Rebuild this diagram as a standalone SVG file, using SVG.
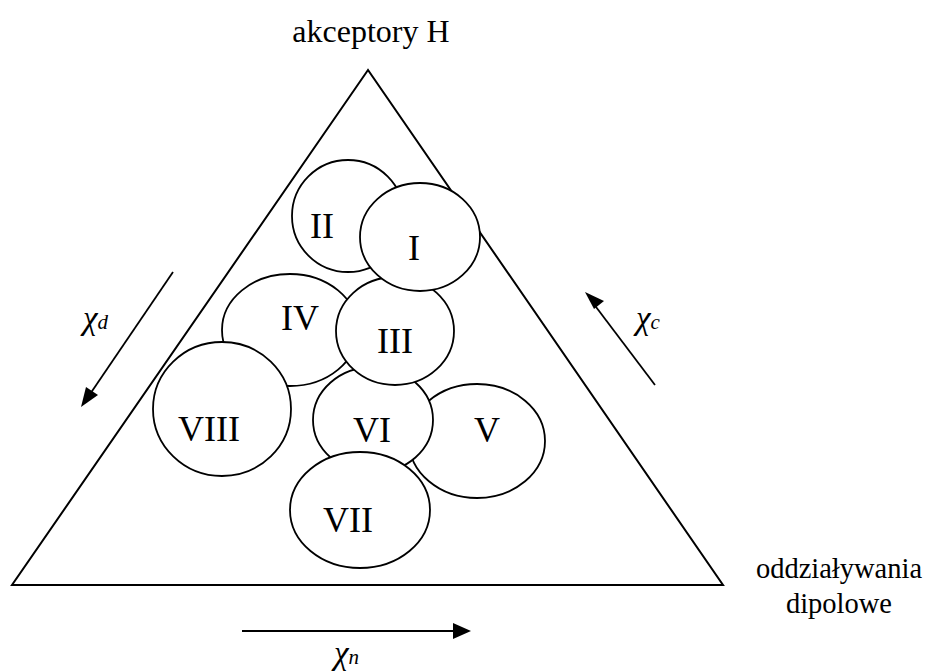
<svg xmlns="http://www.w3.org/2000/svg" width="926" height="671" viewBox="0 0 926 671">
<style>
.n{fill:#fff;stroke:#000;stroke-width:1.8}
.l{stroke:#000;stroke-width:1.8;fill:none}
</style>
<g id="triangle"><polygon points="368,70 12,585 723,585" fill="none" stroke="#000" stroke-width="2"/></g>
<text x="371" y="42" font-family="Liberation Serif" font-size="32" text-anchor="middle">akceptory H</text>
<text x="839" y="578" font-family="Liberation Serif" font-size="28.5" text-anchor="middle">oddziaływania</text>
<text x="839" y="613" font-family="Liberation Serif" font-size="28.5" text-anchor="middle">dipolowe</text>
<g id="connectors">
<line class="l" x1="173" y1="272" x2="86" y2="400"/>
<line class="l" x1="655" y1="385" x2="590" y2="299"/>
<line class="l" x1="242" y1="631" x2="465" y2="631"/>
<polygon points="81,407 86,387 98,395" fill="#000"/>
<polygon points="585,292 604,301 594,309" fill="#000"/>
<polygon points="471,631 453,623 453,639" fill="#000"/>
</g>
<text x="83" y="329" font-family="Liberation Serif" font-style="italic" font-size="33">χ<tspan font-size="21">d</tspan></text>
<text x="636" y="329" font-family="Liberation Serif" font-style="italic" font-size="33">χ<tspan font-size="21">c</tspan></text>
<text x="334" y="664" font-family="Liberation Serif" font-style="italic" font-size="33">χ<tspan font-size="21">n</tspan></text>
<g id="n2"><ellipse class="n" cx="348" cy="216" rx="56" ry="56"/><text x="322" y="238" font-family="Liberation Serif" font-size="36" text-anchor="middle">II</text></g>
<g id="n4"><ellipse class="n" cx="290" cy="330" rx="68" ry="56"/><text x="300" y="330" font-family="Liberation Serif" font-size="36" text-anchor="middle">IV</text></g>
<g id="n8"><ellipse class="n" cx="222" cy="409" rx="69" ry="67"/><text x="209" y="441" font-family="Liberation Serif" font-size="36" text-anchor="middle">VIII</text></g>
<g id="n5"><ellipse class="n" cx="477" cy="441" rx="68" ry="57"/><text x="487" y="442" font-family="Liberation Serif" font-size="36" text-anchor="middle">V</text></g>
<g id="n6"><ellipse class="n" cx="373" cy="420" rx="60" ry="53"/><text x="372" y="442" font-family="Liberation Serif" font-size="36" text-anchor="middle">VI</text></g>
<g id="n7"><ellipse class="n" cx="360" cy="510" rx="70" ry="58"/><text x="348" y="532" font-family="Liberation Serif" font-size="36" text-anchor="middle">VII</text></g>
<g id="n3"><ellipse class="n" cx="395" cy="331" rx="59" ry="54"/><text x="395" y="353" font-family="Liberation Serif" font-size="36" text-anchor="middle">III</text></g>
<g id="n1"><ellipse class="n" cx="420" cy="237" rx="60" ry="54"/><text x="414" y="260" font-family="Liberation Serif" font-size="36" text-anchor="middle">I</text></g>
</svg>
